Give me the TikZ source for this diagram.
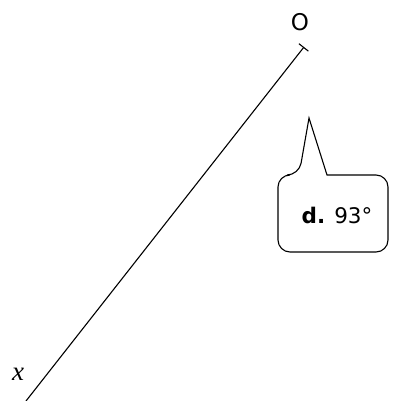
\documentclass[tikz,border=0pt]{standalone}
\usepackage{fontspec}
\setmainfont{DejaVu Sans}
\newfontfamily\serifital{Liberation Serif}
\usetikzlibrary{arrows.meta, calc}

\begin{document}
\begin{tikzpicture}[x=1pt, y=-1pt, line width=1.1pt]
  \useasboundingbox (0,0) rectangle (393,401);
  % the ray with its end mark
  \coordinate (start) at (26,401);
  \coordinate (end) at (304,47);
  \draw[-{Bar[width=12pt]}] (start) -- (end);
  \node[font=\fontsize{23}{26}\selectfont] (vertex) at (300,22.5) {O};
  \node[font=\serifital\itshape\fontsize{27}{30}\selectfont] (side) at (18,374) {x};
  % callout with the answer
  \draw[rounded corners=12pt] (333,252) -- (278,252) -- (278,175) -- (299,175)
    [sharp corners] -- (309,118) -- (327,175)
    [rounded corners=12pt] -- (388,175) -- (388,252) -- cycle;
  \node[font=\fontsize{21.5}{24}\selectfont] (answer) at (337,215.5)
    {\textbf{d.} 93°};
\end{tikzpicture}
\end{document}
